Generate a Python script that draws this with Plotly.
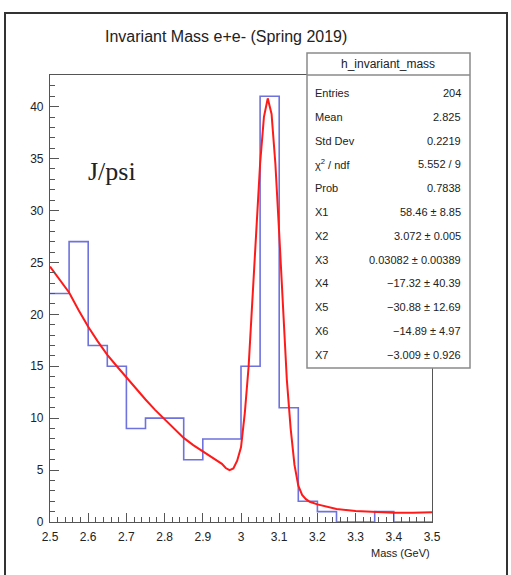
import plotly.graph_objects as go

# Histogram: 20 bins of 0.05 GeV between 2.5 and 3.5 GeV
bin_edges = [2.50, 2.55, 2.60, 2.65, 2.70, 2.75, 2.80, 2.85, 2.90, 2.95, 3.00,
             3.05, 3.10, 3.15, 3.20, 3.25, 3.30, 3.35, 3.40, 3.45, 3.50]
bin_counts = [22, 27, 17, 15, 9, 10, 10, 6, 8, 8,
              15, 41, 11, 2, 1, 0, 0, 1, 0, 0]

# Fitted function (signal peak + background), sampled along the mass axis
fit_x = [2.50, 2.525, 2.55, 2.575, 2.60, 2.625, 2.65, 2.675, 2.70, 2.725, 2.75,
         2.775, 2.80, 2.825, 2.85, 2.875, 2.90, 2.925, 2.95, 2.96, 2.97, 2.98,
         2.99, 3.00, 3.01, 3.02, 3.03, 3.04, 3.05, 3.06, 3.07, 3.08, 3.09,
         3.10, 3.11, 3.12, 3.13, 3.14, 3.15, 3.16, 3.17, 3.18, 3.20, 3.25,
         3.30, 3.35, 3.40, 3.45, 3.50]
fit_y = [24.6, 23.4, 22.1, 20.4, 18.8, 17.4, 16.1, 15.0, 13.9, 12.8, 11.8,
         10.8, 9.9, 9.0, 8.1, 7.4, 6.8, 6.2, 5.6, 5.2, 5.0, 5.15,
         5.9, 7.2, 10.5, 15.0, 21.5, 28.5, 34.5, 39.0, 40.8, 39.3, 34.5,
         27.8, 20.5, 13.7, 9.0, 5.5, 3.5, 2.6, 2.2, 1.95, 1.7, 1.25,
         1.05, 0.95, 0.9, 0.9, 0.95]

x_tickvals = [2.5, 2.6, 2.7, 2.8, 2.9, 3.0, 3.1, 3.2, 3.3, 3.4, 3.5]
x_ticktext = ["2.5", "2.6", "2.7", "2.8", "2.9", "3", "3.1", "3.2", "3.3", "3.4", "3.5"]
y_tickvals = [0, 5, 10, 15, 20, 25, 30, 35, 40]
y_ticktext = ["0", "5", "10", "15", "20", "25", "30", "35", "40"]

stats_title = "h_invariant_mass"
stats_labels = ["Entries", "Mean", "Std Dev", "χ<sup>2</sup> / ndf", "Prob",
                "X1", "X2", "X3", "X4", "X5", "X6", "X7"]
stats_values = ["204", "2.825", "0.2219", "5.552 / 9", "0.7838",
                "58.46 ± 8.85", "3.072 ± 0.005", "0.03082 ± 0.00389",
                "−17.32 ± 40.39", "−30.88 ± 12.69", "−14.89 ± 4.97",
                "−3.009 ± 0.926"]

W, H = 511, 575
L, R, T, B = 50, 79, 75, 53
PW, PH = W - L - R, H - T - B

def px(xp):
    return (xp - L) / PW

def py(yp):
    return (H - B - yp) / PH

SANS = "Liberation Sans, Arial, Helvetica, sans-serif"
TXT = "#222222"

step_y = bin_counts + [bin_counts[-1]]

fig = go.Figure()
fig.add_trace(go.Scatter(
    x=bin_edges, y=step_y, mode="lines", line_shape="hv",
    line=dict(color="#6e72dc", width=1.6), hoverinfo="skip", showlegend=False))
fig.add_trace(go.Scatter(
    x=fit_x, y=fit_y, mode="lines",
    line=dict(color="#ff1a1a", width=2), hoverinfo="skip", showlegend=False))

axis_common = dict(showline=True, linecolor="#555555", linewidth=1.2, mirror=True,
                   ticks="inside", tickcolor="#555555", ticklen=9, tickwidth=1.2,
                   showgrid=False, zeroline=False,
                   tickfont=dict(family=SANS, size=12, color=TXT))

fig.update_xaxes(range=[2.5, 3.5], tickmode="array", tickvals=x_tickvals,
                 ticktext=x_ticktext, ticklabelstandoff=3,
                 minor=dict(ticks="inside", ticklen=5, tickcolor="#555555",
                            tickmode="linear", tick0=2.5, dtick=0.02, showgrid=False),
                 **axis_common)
fig.update_yaxes(range=[0, 43.05], tickmode="array", tickvals=y_tickvals,
                 ticktext=y_ticktext, ticklabelstandoff=3,
                 minor=dict(ticks="inside", ticklen=5, tickcolor="#555555",
                            tickmode="linear", tick0=0, dtick=1, showgrid=False),
                 **axis_common)

shapes = []
# canvas border
shapes.append(dict(type="rect", xref="paper", yref="paper",
                   x0=px(5), x1=px(507), y0=py(580), y1=py(13),
                   line=dict(color="#333333", width=2), layer="above"))
# statistics box
shapes.append(dict(type="rect", xref="paper", yref="paper",
                   x0=px(307), x1=px(470), y0=py(368), y1=py(53),
                   fillcolor="white", line=dict(color="#8a8a8a", width=1.5), layer="above"))
shapes.append(dict(type="line", xref="paper", yref="paper",
                   x0=px(307), x1=px(470), y0=py(75), y1=py(75),
                   line=dict(color="#8a8a8a", width=1.5), layer="above"))

annotations = []
annotations.append(dict(text="Invariant Mass e+e- (Spring 2019)", xref="paper", yref="paper",
                        x=px(226), y=py(36), xanchor="center", yanchor="middle",
                        showarrow=False, font=dict(family=SANS, size=16, color=TXT)))
annotations.append(dict(text=stats_title, xref="paper", yref="paper",
                        x=px(388), y=py(64), xanchor="center", yanchor="middle",
                        showarrow=False, font=dict(family=SANS, size=12, color=TXT)))
for i, (lab, val) in enumerate(zip(stats_labels, stats_values)):
    yrow = 93 + i * 23.8
    annotations.append(dict(text=lab, xref="paper", yref="paper",
                            x=px(313), y=py(yrow), xanchor="left", yanchor="middle",
                            showarrow=False, font=dict(family=SANS, size=11, color=TXT)))
    annotations.append(dict(text=val, xref="paper", yref="paper",
                            x=px(463), y=py(yrow), xanchor="right", yanchor="middle",
                            showarrow=False, font=dict(family=SANS, size=11, color=TXT)))
annotations.append(dict(text="J/psi", xref="paper", yref="paper",
                        x=px(86), y=py(172), xanchor="left", yanchor="middle",
                        showarrow=False,
                        font=dict(family="Liberation Serif, Times New Roman, serif",
                                  size=26, color=TXT)))
annotations.append(dict(text="Mass (GeV)", xref="paper", yref="paper",
                        x=px(432), y=py(553), xanchor="right", yanchor="middle",
                        showarrow=False, font=dict(family=SANS, size=11, color=TXT)))

fig.update_layout(width=W, height=H, margin=dict(l=L, r=R, t=T, b=B),
                  paper_bgcolor="white", plot_bgcolor="white",
                  shapes=shapes, annotations=annotations, showlegend=False)

fig.write_html("out.html")
